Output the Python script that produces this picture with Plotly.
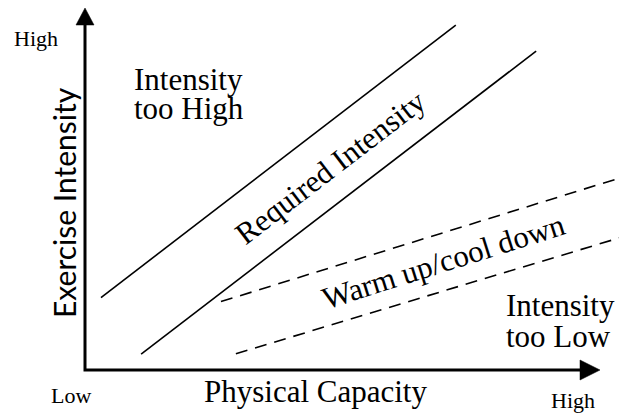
import plotly.graph_objects as go

W, H = 619, 416

# ---- data (conceptual units: 0..10 on each axis) ----
upper_bound_x = [0.31, 7.20]
upper_bound_y = [2.00, 9.53]
lower_bound_x = [1.09, 8.76]
lower_bound_y = [0.44, 8.81]
warm_upper_x = [2.64, 10.40]
warm_upper_y = [1.89, 5.31]
warm_lower_x = [2.93, 10.40]
warm_lower_y = [0.45, 3.66]

axis_max = 10.0
x_label = "Physical Capacity"
y_label = "Exercise Intensity"
low_label = "Low"
high_label = "High"

# axis ranges chosen so the diagram fills the canvas
X_RANGE = [-1.6505, 10.369]
Y_RANGE = [-1.2707, 10.221]

SERIF = "Liberation Serif, Times New Roman, serif"
SANS = "Lato, Carlito, Calibri, sans-serif"

fig = go.Figure()

for xs, ys, dash in [
    (upper_bound_x, upper_bound_y, "solid"),
    (lower_bound_x, lower_bound_y, "solid"),
    (warm_upper_x, warm_upper_y, "12px,8px"),
    (warm_lower_x, warm_lower_y, "12px,8px"),
]:
    fig.add_trace(go.Scatter(x=xs, y=ys, mode="lines",
                             line=dict(color="black", width=1.6, dash=dash),
                             hoverinfo="skip", showlegend=False))

# axes with arrow heads
xpx = (X_RANGE[1] - X_RANGE[0]) / W   # data units per pixel (x)
ypx = (Y_RANGE[1] - Y_RANGE[0]) / H   # data units per pixel (y)
head_len_x = 20 * xpx
head_len_y = 17 * ypx
fig.add_shape(type="path",
              path=f"M 0,{axis_max - head_len_y + 2*ypx} L 0,0 L {axis_max - head_len_x + 2*xpx},0",
              line=dict(color="black", width=3), xref="x", yref="y")
fig.add_shape(type="path",
              path=f"M {axis_max},0 L {axis_max - head_len_x},{10*ypx} L {axis_max - head_len_x},{-10*ypx} Z",
              fillcolor="black", line=dict(color="black", width=0.5), xref="x", yref="y")
fig.add_shape(type="path",
              path=f"M 0,{axis_max} L {-9*xpx},{axis_max - head_len_y} L {9*xpx},{axis_max - head_len_y} Z",
              fillcolor="black", line=dict(color="black", width=0.5), xref="x", yref="y")


def P(x, y):
    return x / W, 1 - y / H


def label(text, x, y, size, font=SERIF, xanchor="left", angle=0):
    px, py = P(x, y)
    fig.add_annotation(text=text, x=px, y=py, xref="paper", yref="paper",
                       xanchor=xanchor, yanchor="middle", showarrow=False,
                       textangle=angle, borderpad=0,
                       font=dict(family=font, size=size, color="black"))


label(high_label, 13, 38.6, 22)
label("Intensity", 133, 79.5, 31)
label("too High", 133, 108.5, 31)
label("Intensity", 505, 305.5, 31)
label("too Low", 505, 336.5, 31)
label(x_label, 315, 391.5, 31, xanchor="center")
label(low_label, 50, 395.6, 22)
label(high_label, 550, 400.6, 22)
label(y_label, 63.5, 202.5, 30, font=SANS, xanchor="center", angle=-90)
label("Required Intensity", 330, 167, 31, xanchor="center", angle=-37.5)
label("Warm up/cool down", 443, 261, 31, xanchor="center", angle=-17.5)

fig.update_xaxes(range=X_RANGE, visible=False, fixedrange=True)
fig.update_yaxes(range=Y_RANGE, visible=False, fixedrange=True)
fig.update_layout(width=W, height=H, margin=dict(l=0, r=0, t=0, b=0),
                  plot_bgcolor="white", paper_bgcolor="white", showlegend=False)

fig.write_html("out.html", config={"displayModeBar": False, "staticPlot": True},
               post_script="document.body.style.margin='0';document.body.style.overflow='hidden';")
